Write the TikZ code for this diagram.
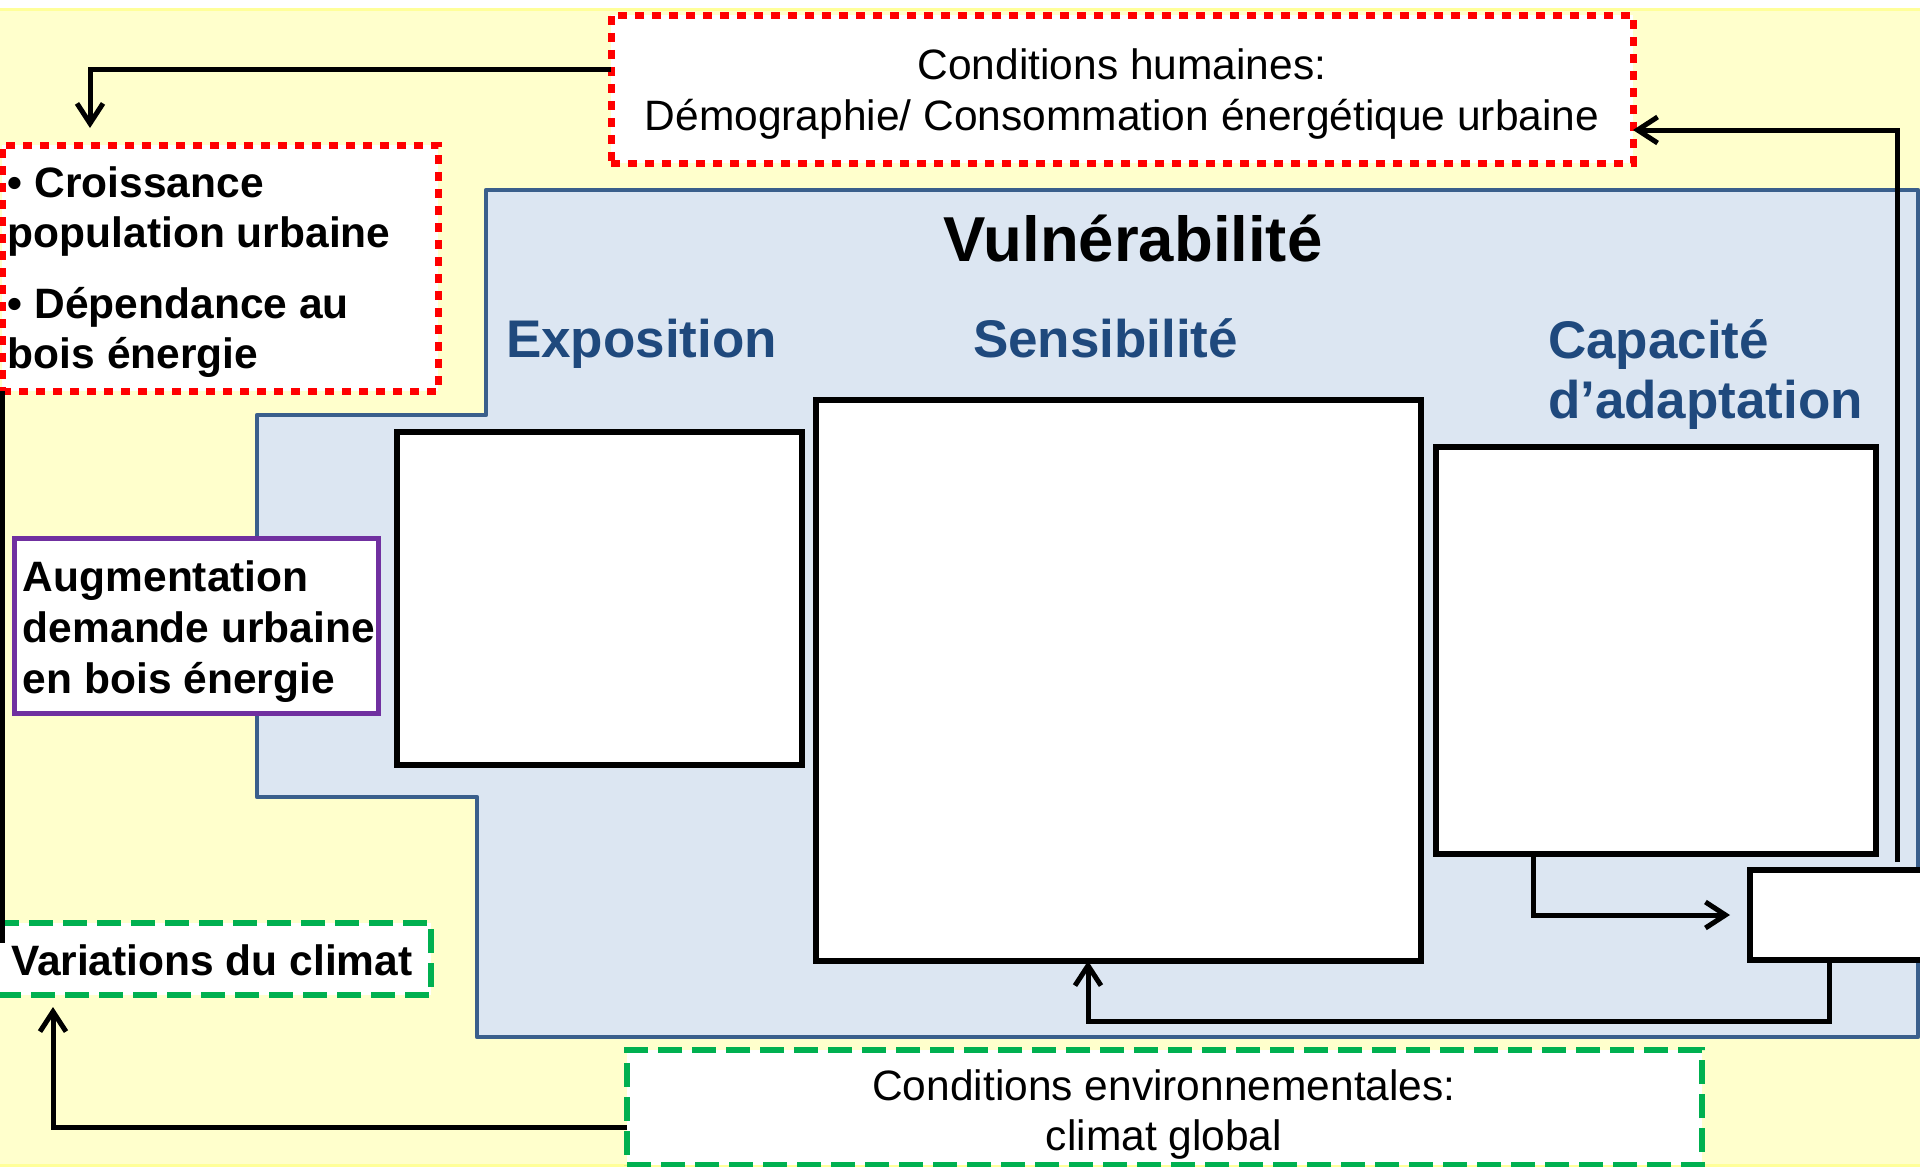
\documentclass[tikz,border=0pt]{standalone}
\usepackage{fontspec}
\setmainfont{Liberation Sans}
\usetikzlibrary{arrows.meta,calc}
\definecolor{bgyellow}{HTML}{FFFFCC}
\definecolor{bgedge}{HTML}{FFFF99}
\definecolor{vfill}{HTML}{DCE6F2}
\definecolor{vedge}{HTML}{3A5F8C}
\definecolor{headblue}{HTML}{1F497D}
\definecolor{hred}{HTML}{FF0000}
\definecolor{egreen}{HTML}{00B050}
\definecolor{dpurple}{HTML}{7030A0}
\begin{document}
\begin{tikzpicture}[x=1pt,y=-1pt,
  box/.style={draw, fill=white, rectangle, inner sep=0pt, outer sep=0pt},
  redbox/.style={box, draw=hred, line width=7pt, dash pattern=on 9pt off 8pt},
  greenbox/.style={box, draw=egreen, line width=6.5pt, dash pattern=on 24pt off 10pt},
  blackbox/.style={box, draw=black, line width=5.5pt},
  purplebox/.style={box, draw=dpurple, line width=5pt},
  conn/.style={draw=black, line width=5pt},
  arr/.style={conn, -{Straight Barb[length=20pt,width=26pt]}},
  txt/.style={inner sep=0pt, outer sep=0pt, anchor=base, font=\fontsize{42.5}{50}\selectfont},
  btxt/.style={inner sep=0pt, outer sep=0pt, anchor=base west, font=\fontsize{42.5}{50}\selectfont\bfseries},
  head/.style={inner sep=0pt, outer sep=0pt, anchor=base west, text=headblue, font=\fontsize{53}{60}\selectfont\bfseries}
]
\useasboundingbox (0,0) rectangle (1920,1167);
\clip (0,0) rectangle (1920,1167);

% background
\fill[white] (0,0) rectangle (1920,1167);
\draw[fill=bgyellow, draw=bgedge, line width=3pt] (-5,9.5) rectangle (1925,1165);

% vulnerability region
\draw[fill=vfill, draw=vedge, line width=4.5pt, line join=round]
  (486,190) -- (1918,190) -- (1918,1037) -- (477,1037) -- (477,797)
  -- (257,797) -- (257,415) -- (486,415) -- cycle;

% boxes
\node[redbox, minimum width=1022pt, minimum height=148pt] (hum) at (1122,89) {};
\node[redbox, minimum width=436pt, minimum height=246pt] (croiss) at (220,268) {};
\node[purplebox, minimum width=364pt, minimum height=175pt] (augm) at (196,625.5) {};
\node[greenbox, minimum width=434pt, minimum height=72pt] (var) at (214,959) {};
\node[greenbox, minimum width=1075pt, minimum height=115pt] (env) at (1164.5,1107.5) {};
\node[blackbox, minimum width=405pt, minimum height=333pt] (expo) at (599.5,598.5) {};
\node[blackbox, minimum width=605pt, minimum height=561pt] (sens) at (1118.5,680.5) {};
\node[blackbox, minimum width=440pt, minimum height=407pt] (cap) at (1656,650.5) {};
\node[blackbox, minimum width=200pt, minimum height=90pt] (resp) at (1850,915) {};

% texts
\node[txt] (humA) at (1122,79) {Conditions humaines:};
\node[txt] (humB) at (1122,130) {Démographie/ Consommation énergétique urbaine};
\node[btxt] (crA) at (8,197) {• Croissance};
\node[btxt] (crB) at (8,247) {population urbaine};
\node[btxt] (crC) at (8,318) {• Dépendance au};
\node[btxt] (crD) at (8,368) {bois énergie};
\node[btxt] (auA) at (23,591) {Augmentation};
\node[btxt] (auB) at (23,642) {demande urbaine};
\node[btxt] (auC) at (23,693) {en bois énergie};
\node[btxt] (varT) at (11,975) {Variations du climat};
\node[txt] (envA) at (1164,1100) {Conditions environnementales:};
\node[txt] (envB) at (1164,1150) {climat global};
\node[inner sep=0pt, anchor=base, font=\fontsize{63.5}{70}\selectfont\bfseries] (vuln) at (1133,261) {Vulnérabilité};
\node[head] (hExpo) at (506,357) {Exposition};
\node[head] (hSens) at (973,357) {Sensibilité};
\node[head] (hCapA) at (1548,358) {Capacité};
\node[head] (hCapB) at (1548,418) {d’adaptation};

% connectors
\coordinate (vend) at (2,943);
\draw[arr] ([yshift=20pt]hum.west) -| ([xshift=88pt,yshift=17pt]croiss.north west);
\draw[conn] (croiss.south west) -- (vend);
\draw[arr] ([yshift=-20pt]env.west) -| ([xshift=-161pt,yshift=-12pt]var.south);
\draw[arr] ([xshift=147pt,yshift=8pt]resp.north west) |- ([yshift=-41pt]hum.east);
\draw[arr] ([xshift=97pt]cap.south west) |- ([xshift=-20pt]resp.west);
\draw[arr] ([xshift=79pt]resp.south west) -- ++(0,61) -| ([xshift=272pt]sens.south west);
\end{tikzpicture}
\end{document}
